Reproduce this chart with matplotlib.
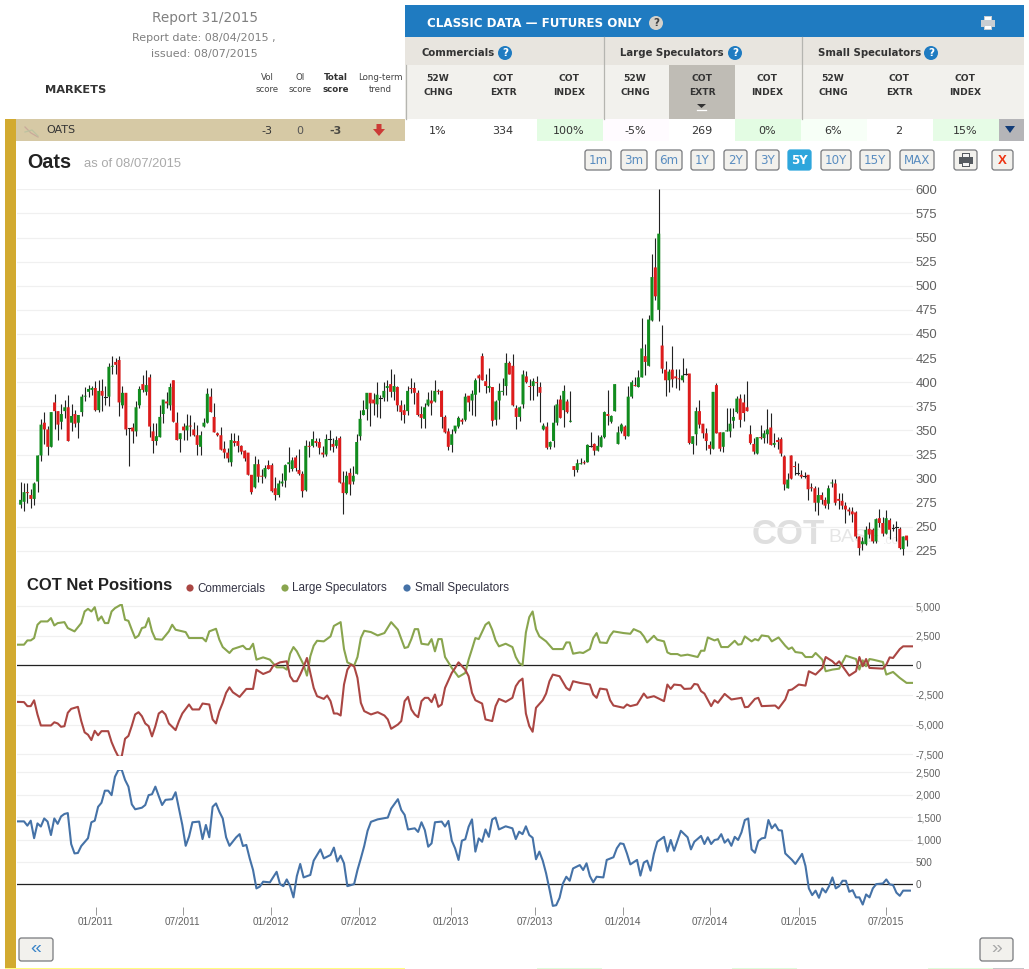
import matplotlib
matplotlib.use("Agg")
import matplotlib.pyplot as plt
import matplotlib.dates as mdates
import pandas as pd
from matplotlib.patches import FancyBboxPatch, Rectangle, Circle, Polygon

plt.rcParams['font.family'] = ['Liberation Sans', 'DejaVu Sans']

# weekly candles, oats futures
bar_open = [
    273,276,286,283,279,297,324,358,351,333,
    379,370,359,370,374,358,367,358,369,385,
    390,392,394,371,391,385,385,416,421,423,
    376,389,352,353,349,376,398,390,405,349,
    339,343,367,380,376,402,358,341,354,350,
    355,351,345,333,354,358,385,364,347,345,
    331,327,317,339,339,334,329,327,304,291,
    315,303,302,314,314,290,283,295,298,315,
    310,322,309,305,288,334,334,339,338,327,
    325,341,336,334,342,296,285,306,297,305,
    344,366,372,389,382,377,384,384,394,398,
    390,395,376,371,370,394,394,389,367,362,
    376,381,380,391,391,364,349,335,349,354,
    361,361,386,381,387,407,427,401,394,395,
    361,381,390,396,420,417,373,364,377,406,
    396,396,400,395,351,354,333,339,358,382,
    371,380,359,313,309,315,317,317,334,336,
    329,333,343,367,359,370,336,349,354,344,
    385,397,395,405,427,417,464,519,475,438,
    413,402,413,406,404,402,408,409,336,346,
    370,357,347,335,331,397,348,333,349,349,
    360,369,383,379,374,346,336,326,343,342,
    346,353,335,340,341,323,290,324,313,306,
    304,303,304,291,290,275,283,278,274,295,
    295,279,277,272,268,266,265,240,232,232,
    248,247,235,259,254,243,257,249,250,248,
    227,241]
bar_close = [
    278,286,285,279,295,324,356,351,333,369,
    370,356,367,374,339,365,357,366,385,386,
    393,394,371,391,386,385,416,417,418,379,
    389,351,352,349,374,393,392,397,354,339,
    344,364,382,378,395,359,340,347,350,355,
    354,345,335,345,358,388,369,348,345,330,
    327,321,340,337,334,328,321,304,286,315,
    302,302,311,310,287,283,295,297,314,317,
    319,311,305,287,334,333,341,337,332,325,
    341,341,333,340,296,285,303,294,303,338,
    362,371,389,378,378,387,384,391,396,390,
    396,376,369,366,391,393,389,366,363,374,
    382,378,391,390,364,348,333,346,355,363,
    359,385,379,388,402,404,402,396,396,360,
    380,391,391,420,408,376,364,374,408,400,
    395,401,399,389,355,332,338,358,377,363,
    391,369,360,309,316,316,316,335,334,329,
    334,343,369,365,365,398,348,356,344,385,
    400,396,405,435,421,465,509,489,554,414,
    402,411,403,404,403,407,408,337,344,370,
    356,347,339,331,390,347,331,348,350,357,
    364,383,361,368,370,337,328,343,342,347,
    351,335,337,338,326,294,299,300,312,306,
    302,303,289,290,275,283,278,272,290,296,
    275,277,272,268,266,263,240,228,235,247,
    242,235,258,254,243,259,247,249,250,228,
    240,236]
bar_high = [
    297,295,295,289,297,324,362,369,355,369,
    388,370,377,382,387,377,371,366,388,395,
    397,396,401,402,403,396,420,427,425,427,
    396,389,352,358,381,396,407,413,409,358,
    358,376,382,390,399,402,369,347,358,367,
    366,359,356,349,363,394,394,378,348,354,
    339,332,347,347,345,335,330,327,304,323,
    320,310,314,319,316,302,299,306,315,333,
    322,324,331,308,340,339,349,342,342,334,
    346,350,342,344,344,308,308,311,313,346,
    371,382,389,389,389,400,387,400,402,414,
    408,396,382,377,396,404,400,392,375,378,
    390,392,402,393,392,366,352,351,355,365,
    363,389,386,392,404,409,430,408,415,395,
    382,399,404,430,422,429,376,375,413,412,
    403,404,406,400,358,359,339,376,383,387,
    397,383,391,313,320,321,319,336,348,337,
    345,345,370,392,366,398,355,358,356,396,
    402,405,413,467,440,470,533,550,600,459,
    422,414,438,414,414,425,415,409,344,374,
    382,357,352,339,390,399,348,348,373,373,
    373,386,388,388,401,356,342,343,356,350,
    372,368,347,343,343,324,306,324,318,316,
    309,307,304,296,292,291,286,281,293,300,
    300,285,285,276,271,271,266,241,240,251,
    255,249,259,269,260,267,259,253,256,250,
    241,241]
bar_low = [
    270,266,275,270,273,286,318,336,324,333,
    351,340,351,363,339,349,354,342,365,380,
    385,387,370,369,370,376,375,408,409,365,
    373,345,313,337,344,373,390,387,343,327,
    335,343,358,373,371,359,340,328,340,340,
    344,344,325,324,354,358,369,348,344,330,
    321,317,313,334,328,326,318,304,284,290,
    297,296,301,310,286,278,281,292,291,307,
    308,308,304,281,287,322,333,334,326,322,
    323,330,328,332,295,263,284,283,294,305,
    340,366,361,355,366,364,363,380,380,385,
    382,370,361,358,366,389,377,365,352,352,
    375,366,379,388,352,347,330,328,347,353,
    357,360,370,366,365,390,402,389,390,355,
    356,362,387,387,408,375,351,360,373,399,
    382,382,386,359,350,331,331,333,356,363,
    354,368,359,303,307,315,315,317,333,324,
    329,333,342,356,358,370,336,347,341,344,
    384,396,395,405,407,417,463,485,463,410,
    386,390,395,394,392,400,407,336,326,335,
    352,342,330,326,331,347,329,328,349,343,
    353,368,354,360,370,336,326,326,341,337,
    337,335,333,331,323,288,290,300,304,304,
    301,301,278,287,266,262,274,270,269,291,
    273,269,269,254,262,255,238,221,226,231,
    238,233,233,250,241,243,237,246,235,227,
    221,230]

# net positions, read at the turning points (week number, contracts)
comm_week = [0,2,3,4,5,6,7,8,10,11,12,13,14,15,16,18,19,20,21,22,23,24,25,27,28,29,30,31,32,33,34,35,36,37,38,39,40,41,42,43,44,45,47,48,49,51,52,54,55,57,58,59,60,61,62,63,64,66,67,68,70,71,73,75,76,78,80,81,82,83,84,85,86,87,88,89,91,92,93,94,95,96,97,98,99,100,101,102,103,105,107,109,110,111,113,114,115,116,117,118,119,120,121,122,123,124,125,126,127,129,130,131,133,134,135,136,138,139,141,142,143,145,147,148,149,150,151,152,153,154,156,157,158,159,161,163,164,165,167,170,171,172,173,175,176,177,180,181,182,184,186,187,189,192,193,194,195,197,198,200,201,202,203,204,206,207,208,210,212,215,216,217,219,220,221,225,226,228,229,230,232,234,235,237,239,240,242,243,244,245,247,249,250,251,252,253,257,258,259,260,262,263,266]
comm_val = [-3080,-3100,-3440,-3440,-2950,-4140,-5070,-5070,-5070,-4800,-4900,-5180,-5130,-4000,-3670,-3500,-4700,-5650,-5850,-6300,-5520,-5900,-5550,-5550,-6470,-7140,-7700,-7700,-6190,-5950,-5100,-4140,-3950,-4290,-4900,-5130,-5990,-5130,-4060,-3860,-4140,-4900,-5460,-4700,-4060,-3300,-3720,-3720,-3220,-3300,-4560,-4900,-3860,-3160,-2320,-1850,-2270,-2660,-2320,-1990,-1990,-370,-730,-500,-30,250,340,-920,-1340,-1340,-780,-140,620,-640,-1900,-2600,-2830,-2540,-3020,-4060,-4060,-4230,-1620,-370,60,-80,-1060,-3160,-3860,-4140,-3950,-4230,-4560,-5350,-4990,-4700,-3020,-2660,-3720,-4140,-4370,-3020,-2740,-2740,-3100,-2460,-3500,-3300,-1900,-640,-220,250,-370,-920,-2320,-2940,-3220,-4560,-4700,-3440,-2830,-3080,-2740,-1760,-1340,-1120,-4060,-5120,-5600,-3580,-2940,-2380,-1340,-780,-920,-1900,-2100,-1340,-1480,-1620,-2460,-2740,-1960,-2040,-2940,-3390,-3580,-3300,-3440,-3300,-2380,-2740,-2600,-3020,-1620,-1990,-1620,-1680,-1990,-1960,-1570,-1620,-2180,-2380,-3440,-2940,-3160,-2410,-2880,-2740,-3530,-3500,-2830,-2740,-3440,-3390,-3640,-2880,-2100,-2040,-1620,-1710,-500,-780,-220,700,340,60,340,-80,-870,-500,700,-80,530,-220,-280,60,670,620,1370,1600,1600]

large_week = [0,2,3,4,5,6,7,9,10,11,12,14,15,17,19,20,21,22,23,24,25,26,27,28,29,31,32,33,34,35,36,37,38,39,40,41,43,45,46,47,50,51,55,56,57,59,60,61,63,64,67,68,69,70,71,73,75,77,79,80,81,82,83,85,86,87,88,89,91,93,94,96,97,98,100,101,102,103,105,107,109,111,113,115,116,117,118,119,120,122,123,124,125,126,127,129,131,133,134,135,136,137,139,140,141,142,143,145,147,148,149,150,151,152,153,154,155,157,159,162,163,164,165,167,168,170,171,172,173,175,176,177,180,182,183,185,186,187,189,190,192,193,194,196,197,199,202,203,204,205,207,208,209,211,213,214,215,216,218,219,220,221,223,224,226,228,229,230,231,233,234,236,237,239,240,242,244,246,249,250,251,252,253,254,257,258,260,262,264,266]
large_val = [1740,1740,2100,2100,2300,3420,3700,3700,3980,3360,3560,3640,3140,2860,3560,4540,4760,4540,4900,3780,4120,3560,3560,4540,4820,5150,3840,3750,3000,2300,2500,3140,3220,3980,2860,2210,2160,2860,3420,3000,2800,2300,2300,2020,2860,3080,2160,1540,1040,1370,1650,1370,1370,1820,480,670,480,-170,-170,-360,980,1540,1180,60,-870,760,1650,2070,2020,2440,3320,3640,1370,250,-30,700,2300,2910,2800,2520,2720,3640,3000,1460,1540,2210,3050,3050,1820,1740,2210,1180,2210,2210,700,-220,-980,-640,480,1370,2300,2210,3420,3640,3000,2100,1600,1820,1540,700,200,0,2770,4060,4540,3050,2440,2020,1370,1370,1930,1930,980,1090,1040,1370,2300,2720,1930,1880,2490,2860,2720,2660,3050,2800,2440,1930,2490,2160,2020,1090,950,950,810,900,700,1230,1230,2350,2100,2210,1540,1540,2070,1740,1790,2440,2020,2210,2100,2520,2440,2020,2350,1650,1370,1510,1120,1040,700,700,1040,480,-500,-360,-280,810,530,-360,420,-80,530,480,280,-780,-560,-1060,-1480,-1480]

small_week = [0,2,3,4,5,6,7,8,9,10,11,12,13,14,15,16,17,18,19,21,22,23,24,25,26,27,28,29,30,31,32,33,34,35,37,38,39,40,41,42,43,44,46,47,48,49,50,51,52,54,55,56,57,58,59,60,61,62,63,65,66,67,68,69,70,71,72,73,75,77,78,79,80,81,82,83,84,85,87,88,90,91,93,94,95,96,97,98,100,101,102,103,104,105,107,110,111,113,114,115,116,118,119,120,121,122,123,124,126,127,128,129,130,131,132,133,134,135,136,137,138,139,140,141,142,143,145,147,148,149,150,151,152,153,154,155,156,157,158,159,160,161,162,163,164,165,167,168,169,170,171,172,174,175,177,178,179,180,181,182,184,185,186,187,188,189,190,192,193,194,195,197,199,200,201,203,204,205,206,207,208,209,210,211,212,213,214,215,216,217,218,219,220,221,222,223,224,225,226,227,228,230,231,233,234,235,236,237,238,239,240,241,242,243,244,245,246,247,248,249,250,251,252,253,254,255,257,258,259,260,261,262,263,265]
small_val = [1405,1405,1310,1420,1030,1360,1290,1470,1400,1100,1470,1350,1515,1570,1590,900,690,700,855,1030,1385,1420,1730,1820,2090,2090,1990,2400,2550,2560,2330,2180,1785,1675,1710,1770,1990,2010,2180,1970,1770,1885,1900,2055,1695,1325,860,1065,1385,1400,1010,1325,1050,1730,1805,1620,1470,1050,860,1050,1120,855,880,580,320,-90,-50,60,45,280,5,-40,110,-40,-290,185,455,155,210,530,780,580,655,820,510,640,470,-40,5,320,580,855,1195,1395,1450,1490,1690,1900,1660,1550,1225,1250,1170,1385,1210,840,915,1385,1400,1290,1415,975,800,545,975,1005,1285,1450,730,1025,950,1225,1060,1450,1490,1225,1295,1250,1010,1175,1120,1295,1100,1040,560,730,530,245,-110,-480,-465,-300,20,170,80,355,430,320,470,185,45,170,155,545,605,805,915,900,690,445,545,195,485,530,305,680,950,1060,730,990,750,1195,1050,780,950,1080,900,1050,900,990,1005,1120,930,1005,860,1060,990,1160,1435,1470,780,705,965,1025,1040,1435,1250,1340,1210,1200,690,545,455,680,410,-90,-240,-140,-300,-90,-180,-40,155,-90,-40,80,80,-165,-130,-290,-290,-450,-225,-290,-90,5,20,110,0,-15,-185,-255,-140,-140]

price_ticks = [225,250,275,300,325,350,375,400,425,450,475,500,525,550,575,600]
cot_ticks = [5000,2500,0,-2500,-5000,-7500]
cot_labels = ['5,000','2,500','0','-2,500','-5,000','-7,500']
small_ticks = [2500,2000,1500,1000,500,0]
small_labels = ['2,500','2,000','1,500','1,000','500','0']
date_ticks = ['2011-01-01','2011-07-01','2012-01-01','2012-07-01','2013-01-08','2013-07-01','2014-01-01','2014-07-01','2015-01-01','2015-07-01']
date_labels = ['01/2011','07/2011','01/2012','07/2012','01/2013','07/2013','01/2014','07/2014','01/2015','07/2015']

# table contents
column_heads = ['52W\nCHNG','COT\nEXTR','COT\nINDEX'] * 3
column_x = [438,503,569,635,702,767,833,899,965]
row_values = ['1%','334','100%','-5%','269','0%','6%','2','15%']
row_fills = ['#ffffff','#ffffff','#e3fce3','#fffbff','#ffffff','#e3fce3','#f7fff7','#ffffff','#e6fce6']
range_labels = ['1m','3m','6m','1Y','2Y','3Y','5Y','10Y','15Y','MAX']
range_left = [585,621,656,691,724,756,788,821,860,900]
range_right = [611,647,682,714,747,779,811,851,890,934]

GREEN = '#118c1e'
RED = '#dd1c1c'
GRID = '#f0f0f0'
VERDANA = 'DejaVu Sans'

W, H = 1029, 969
PX_PER_DAY = 0.4812
X0 = pd.Timestamp('2011-01-01')
x_left = mdates.date2num(X0 + pd.Timedelta(days=(17 - 95.7) / PX_PER_DAY))
x_right = mdates.date2num(X0 + pd.Timedelta(days=(913 - 95.7) / PX_PER_DAY))

fig = plt.figure(figsize=(W / 100, H / 100), dpi=100)

# page furniture is drawn in pixel coordinates
ui = fig.add_axes([0, 0, 1, 1])
ui.set_xlim(0, W)
ui.set_ylim(H, 0)
ui.axis('off')


def box(x0, y0, x1, y1, color):
    ui.add_patch(Rectangle((x0, y0), x1 - x0, y1 - y0, fc=color, ec='none'))


def label(x, y, s, size, color='#333333', ha='center', family=VERDANA, weight='normal', **kw):
    ui.text(x, y, s, fontsize=size, color=color, ha=ha, va='center',
            family=family, fontweight=weight, **kw)


def button(x0, y0, x1, y1, fc='#f2f1ed', ec='#77797d'):
    ui.add_patch(FancyBboxPatch((x0, y0), x1 - x0, y1 - y0, fc=fc, ec=ec, lw=0.9,
                                boxstyle='round,pad=0,rounding_size=2.5'))


def help_icon(x, y, fc='#1f7bc1', fg='white'):
    ui.add_patch(Circle((x, y), 7, fc=fc, ec='none'))
    label(x, y, '?', 7.5, color=fg, weight='bold')


def printer(x, y, color, paper):
    box(x - 4, y - 7, x + 4, y - 2, color)
    box(x - 3, y - 6, x + 3, y - 2, paper)
    box(x - 7, y - 3, x + 7, y + 4, color)
    box(x - 4, y + 2, x + 4, y + 7, color)
    box(x - 3, y + 3, x + 3, y + 6, paper)


# left heading
label(205, 18, 'Report 31/2015', 9.8, color='#808080')
label(204, 38, 'Report date: 08/04/2015 ,', 8.0, color='#808080')
label(204, 54, 'issued: 08/07/2015', 8.0, color='#808080')
label(76, 90, 'MARKETS', 8.2, weight='bold')
label(267, 83.5, 'Vol\nscore', 6.2, color='#444444', linespacing=1.35)
label(300, 83.5, 'OI\nscore', 6.2, color='#444444', linespacing=1.35)
label(336, 83.5, 'Total\nscore', 6.2, weight='bold', linespacing=1.35)
label(380, 83.5, 'Long-term\ntrend', 6.2, color='#444444', linespacing=1.35)

# data header
box(405, 5, 1024, 37, '#1f7bc1')
label(427, 23, 'CLASSIC DATA \u2014 FUTURES ONLY', 8.6, color='white', ha='left', weight='bold')
help_icon(656, 23, fc='#d5d2cb', fg='#444444')
printer(988, 23, '#c8cdd2', '#ffffff')
box(405, 37, 1024, 65, '#e8e5df')
box(405, 65, 1024, 119, '#f2f1ed')
box(669, 65, 735, 119, '#bfbcb5')
for sep_x, y0 in [(405, 65), (603, 37), (801, 37)]:
    ui.plot([sep_x + 0.5, sep_x + 0.5], [y0, 119], color='#b5b5b0', lw=0.9)
label(421, 53, 'Commercials', 7.3, ha='left', weight='bold')
help_icon(505, 53)
label(620, 53, 'Large Speculators', 7.3, ha='left', weight='bold')
help_icon(735, 53)
label(818, 53, 'Small Speculators', 7.3, ha='left', weight='bold')
help_icon(931, 53)
for cx, head in zip(column_x, column_heads):
    label(cx, 85.5, head, 6.6, weight='bold', linespacing=1.7)
ui.add_patch(Polygon([(697, 104), (706, 104), (701.5, 108)], fc='#333333', ec='none'))
ui.plot([697, 706], [109.5, 109.5], color='white', lw=0.9)

# market row
box(5, 119, 16, 968, '#d2aa30')
box(16, 119, 405, 141, '#d6c9a5')
ui.plot([25, 31, 38], [127, 133, 137], color='#c9a99a', lw=0.9)
ui.plot([25, 32, 38], [132, 130, 136], color='#bcc2a0', lw=0.9)
label(46, 130, 'OATS', 8, ha='left')
label(267, 130.5, '-3', 8)
label(300, 130.5, '0', 8, color='#555555')
label(336, 130.5, '-3', 8, weight='bold', alpha=0.85)
ui.add_patch(Polygon([(376.5, 124), (381.5, 124), (381.5, 129), (385, 129), (379, 136), (373, 129), (376.5, 129)],
                     fc='#cc3a36', ec='none'))
for i, (cx, val, fill) in enumerate(zip(column_x, row_values, row_fills)):
    box(405 + 66 * i, 119, 471 + 66 * i, 141, fill)
    label(cx, 130.5, val, 8)
box(999, 119, 1024, 141, '#b5b5b8')
ui.add_patch(Polygon([(1005, 126), (1015, 126), (1010, 133)], fc='#123c78', ec='none'))

# chart heading and range buttons
label(27, 162, 'Oats', 14.2, family='Liberation Sans', ha='left', weight='bold', color='#222222')
label(84, 164, 'as of 08/07/2015', 9.4, family='Liberation Sans', ha='left', color='#aaaaaa')
for x0, x1, txt in zip(range_left, range_right, range_labels):
    if txt == '5Y':
        button(x0, 150, x1, 170, fc='#2ea6dc', ec='#2ea6dc')
        label((x0 + x1) / 2, 160.5, txt, 8.6, color='white', weight='bold')
    else:
        button(x0, 150, x1, 170)
        label((x0 + x1) / 2, 160.5, txt, 8.6, color='#5a8dc0')
button(954, 150, 977, 170)
printer(965.5, 160, '#555a60', '#f4f4f4')
button(992, 150, 1013, 170)
label(1002.5, 160.5, 'X', 9.5, color='#ee3311', weight='bold', family='Liberation Sans')

# watermark
label(752, 535, 'COT', 25, family='Liberation Sans', ha='left', weight='bold', color='#dfdfdf')
label(828, 538, 'BASE', 14, family='Liberation Sans', ha='left', color='#e6e6e6')
label(883, 541, '.com', 9, family='Liberation Sans', ha='left', color='#eeeeee')

# section heading and legend
label(27, 585, 'COT Net Positions', 12, family='Liberation Sans', ha='left', weight='bold', color='#222222')
for dot_x, txt_x, col, name in [(190, 197, '#aa4643', 'Commercials'),
                                (285, 292, '#89a54e', 'Large Speculators'),
                                (407, 415, '#4572a7', 'Small Speculators')]:
    ui.add_patch(Circle((dot_x, 588), 3.6, fc=col, ec='none'))
    label(txt_x, 588.5, name, 8.4, family='Liberation Sans', ha='left', color='#333344')

# paging buttons and the next row showing below
button(19, 938, 53, 961)
label(36, 948.5, '\u00ab', 14, color='#3a84c8', family='Liberation Sans')
button(980, 938, 1013, 961)
label(996.5, 948.5, '\u00bb', 14, color='#a8a8a8', family='Liberation Sans')
box(5, 967.5, 405, 969, '#ffff80')
for x0, x1 in [(537, 602), (732, 797), (928, 993)]:
    box(x0, 967.5, x1, 969, '#dffcdc')
box(993, 967.5, 1024, 969, '#c5c5c8')


def chart_axes(top, bottom, ymin, ymax):
    ax = fig.add_axes([17 / W, 1 - bottom / H, (913 - 17) / W, (bottom - top) / H])
    ax.patch.set_alpha(0)
    ax.set_xlim(x_left, x_right)
    ax.set_ylim(ymin, ymax)
    for spine in ax.spines.values():
        spine.set_visible(False)
    ax.yaxis.tick_right()
    ax.tick_params(axis='y', length=0)
    ax.grid(axis='y', color=GRID, lw=0.9)
    ax.set_axisbelow(True)
    ax.set_xticks([])
    return ax


# candlesticks
ax_price = chart_axes(189, 556, 219.8, 600.3)
bar_dates = mdates.date2num(pd.date_range('2010-07-29', '2015-08-13', periods=len(bar_open)))
ax_price.vlines(bar_dates, bar_low, bar_high, color='#222222', lw=0.8, zorder=2, clip_on=False)
for d, o, c in zip(bar_dates, bar_open, bar_close):
    if o == c:
        ax_price.plot([d - 3, d + 3], [o, o], color='#222222', lw=0.8, zorder=3)
    else:
        ax_price.bar(d, abs(c - o), width=6.2, bottom=min(o, c), snap=False,
                     color=GREEN if c > o else RED, zorder=3)
ax_price.set_yticks(price_ticks)
ax_price.tick_params(axis='y', labelsize=9.4, labelcolor='#606060', pad=2)

# net position panels share one weekly calendar
line_dates = mdates.date2num(pd.date_range('2010-07-22', periods=267, freq='7D'))
ax_cot = chart_axes(604, 756, -7643, 5169)
ax_cot.plot(line_dates[large_week], large_val, color='#89a54e', lw=1.5, zorder=3)
ax_cot.plot(line_dates[comm_week], comm_val, color='#aa4643', lw=1.5, zorder=3)
ax_cot.axhline(0, color='#222222', lw=0.9, zorder=2.5)
ax_cot.set_yticks(cot_ticks, labels=cot_labels)
ax_cot.tick_params(axis='y', labelsize=7.2, labelcolor='#606060', pad=2)

ax_small = chart_axes(770, 907, -505, 2551)
ax_small.plot(line_dates[small_week], small_val, color='#4572a7', lw=1.5, zorder=3)
ax_small.axhline(0, color='#222222', lw=0.9, zorder=2.5)
ax_small.set_yticks(small_ticks, labels=small_labels)
ax_small.tick_params(axis='y', labelsize=7.2, labelcolor='#606060', pad=2)
ax_small.set_xticks(mdates.date2num(pd.to_datetime(date_ticks)), labels=date_labels)
ax_small.tick_params(axis='x', length=6, width=0.7, color='#999999', labelsize=7.2,
                     labelcolor='#606060', pad=1.5)

fig.savefig('out.png', dpi=100)
plt.close(fig)
